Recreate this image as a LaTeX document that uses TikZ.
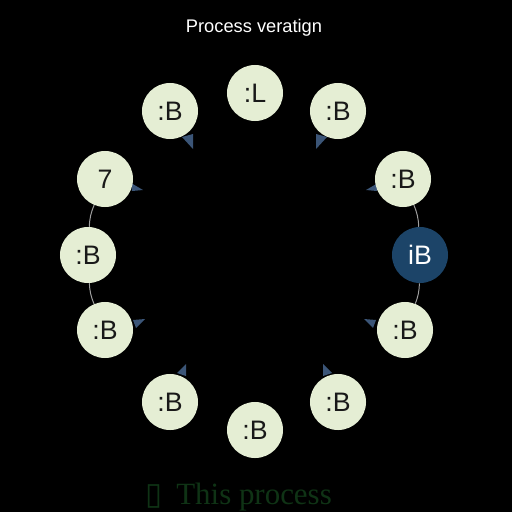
\documentclass[tikz,border=0pt]{standalone}
\usepackage{fontspec}
\setmainfont{Liberation Sans}
\newfontfamily\notefont{Liberation Serif}
\newfontfamily\symfont{DejaVu Sans}
\usetikzlibrary{positioning, calc}

\definecolor{stagefill}{HTML}{E5EED4}
\definecolor{stagedark}{HTML}{1C4468}
\definecolor{tailblue}{HTML}{3B5577}
\definecolor{notegreen}{HTML}{0F3315}

\begin{document}
\begin{tikzpicture}[x=0.025cm, y=-0.025cm]

	\tikzstyle{stage} = [circle, fill=stagefill, text=black!90, minimum size=1.4cm, inner sep=0pt, font=\fontsize{19}{22}\selectfont]
	\tikzstyle{active} = [stage, fill=stagedark, text=white]
	\tikzstyle{ring} = [draw, gray!75, line width=0.7pt]
	\tikzstyle{tail} = [fill=tailblue]

	\fill[black] (0,0) rectangle (512,512);
	\useasboundingbox (0,0) rectangle (512,512);
	\clip (0,0) rectangle (512,512);

	\node[text=white, font=\fontsize{13}{15}\selectfont] (title) at (254,28) {Process veratign};

	% tails on the inner side
	\path [tail] (182,137) -- (193,134) -- (193,149) -- cycle;
	\path [tail] (131,183) -- (143,190) -- (132,191) -- cycle;
	\path [tail] (133,320) -- (145,319) -- (136,328) -- cycle;
	\path [tail] (177,373) -- (186,364) -- (186,376) -- cycle;
	\path [tail] (327,137) -- (316,134) -- (316,149) -- cycle;
	\path [tail] (378,183) -- (366,190) -- (377,191) -- cycle;
	\path [tail] (376,320) -- (364,319) -- (373,328) -- cycle;
	\path [tail] (332,373) -- (323,364) -- (323,376) -- cycle;

	\node [stage] (1) at (255,93) {:L};
	\node [stage] (2) at (338,111) {:B};
	\node [stage] (3) at (403,179) {:B};
	\node [active] (4) at (420,255) {iB};
	\node [stage] (5) at (405,330) {:B};
	\node [stage] (6) at (338,402) {:B};
	\node [stage] (7) at (255,430) {:B};
	\node [stage] (8) at (170,402) {:B};
	\node [stage] (9) at (105,330) {:B};
	\node [stage] (10) at (88,255) {:B};
	\node [stage] (11) at (105,179) {7};
	\node [stage] (12) at (170,111) {:B};

	\path [ring] (11) to[bend right=10] (10);
	\path [ring] (10) to[bend right=10] (9);
	\path [ring] (3) to[bend left=10] (4);
	\path [ring] (4) to[bend left=10] (5);

	\node [anchor=base west, text=notegreen, inner sep=0pt, font=\fontsize{22}{26}\selectfont] (note) at (145,504) {{\symfont ▯}\hspace{0.35cm}\notefont This process};
\end{tikzpicture}
\end{document}
